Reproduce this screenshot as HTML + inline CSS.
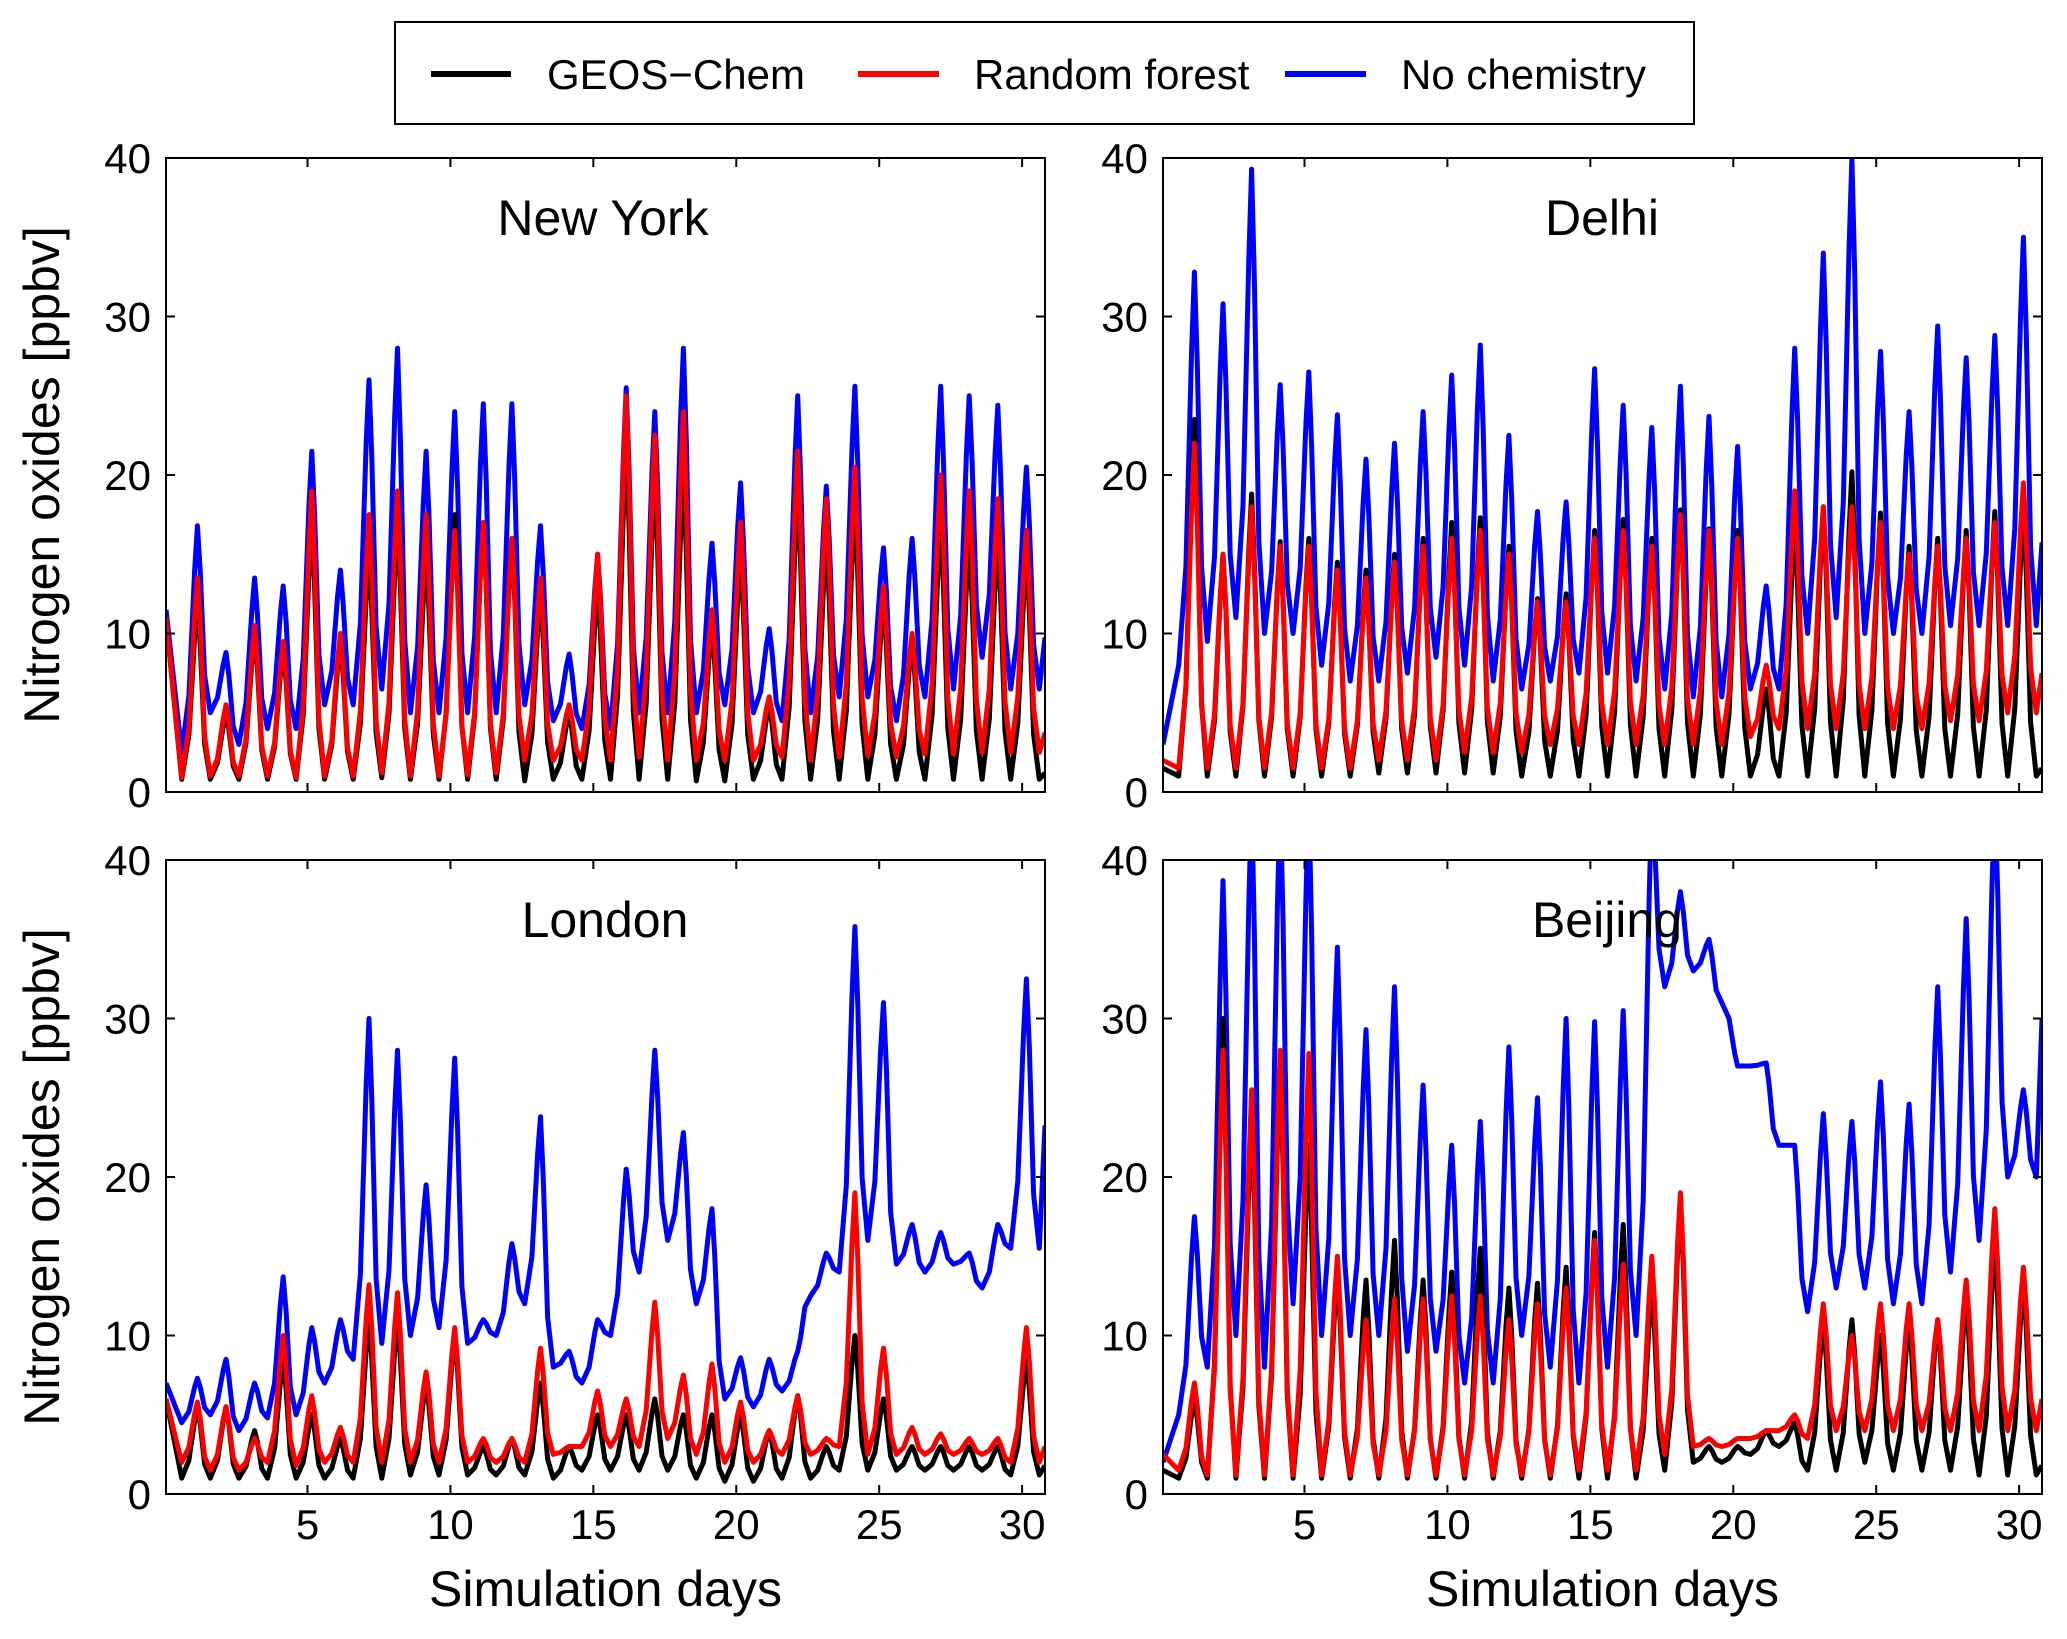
<!DOCTYPE html>
<html><head><meta charset="utf-8"><style>
html,body{margin:0;padding:0;background:#fff;}
svg{display:block;font-family:"Liberation Sans",Arial,sans-serif;}
</style></head><body>
<svg id="chart" width="2067" height="1639" viewBox="0 0 2067 1639">
<g id="legend">
<rect x="395" y="22" width="1299" height="102" fill="#fff" stroke="#000" stroke-width="2"/>
<line x1="431" y1="74" x2="511" y2="74" stroke="#000" stroke-width="6"/>
<text x="547" y="89" font-size="42">GEOS−Chem</text>
<line x1="858" y1="74" x2="939" y2="74" stroke="#f00" stroke-width="6"/>
<text x="974" y="89" font-size="42">Random forest</text>
<line x1="1285" y1="74" x2="1366" y2="74" stroke="#00f" stroke-width="6"/>
<text x="1401" y="89" font-size="42">No chemistry</text>
</g>
</svg>
<script>
// Daily peaks (days 1..30) and troughs (start + days 0..29)
const nyBluePeaks=[16.8,8.8,13.5,13,21.5,14,26,28,21.5,24,24.5,24.5,16.8,8.7,15,25.5,24,28,15.7,19.5,10.3,25,19.3,25.6,15.4,16,25.6,25,24.4,20.5];
const nyBlueTroughs=[11.5,2.5,5,3,4,4,5.5,5.5,6.5,5,5,5,5,5.5,4.5,4,4,5,5,5,5.5,5,4.5,5,6,6,4.5,6,6.5,8.5,6.5];
const nyRedPeaks=[13.5,5.5,10.5,9.5,19,10,17.5,19,17.5,16.5,17,16,13.5,5.5,15,25,22.5,24,11.5,17,6,21.5,18.5,20.5,13,10,20,19,18.5,16.5];
const nyRedTroughs=[11,0.9,1,1,1,0.9,1,1,1.2,1,1,1.1,1.2,2,2,2,2,2.2,2,2,2,2,2.2,2,2.2,2.3,2.2,2.4,2.4,2.5,2.5];
const nyBlackPeaks=[12,5,10,9,17,9.5,15,17,15,17.5,17,16,12.5,5,13,22,20,20,10.5,15,5.5,19,16,18,12,9.5,17,16,16,15];
const nyBlackTroughs=[11,0.8,0.8,0.8,0.8,0.8,0.8,0.8,0.9,0.8,0.8,0.8,0.8,0.7,0.8,0.8,0.8,0.8,0.8,0.7,0.7,0.8,0.8,0.8,0.8,0.8,0.8,0.8,0.8,0.8,0.8];

const deBluePeaks=[32.8,30.8,39.3,25.7,26.5,23.8,21,22,24,26.3,28.2,22.5,17.7,18.3,26.7,24.4,23,25.6,23.7,21.8,13,28,34,40,27.8,24,29.4,27.4,28.8,35];
const deBlueTroughs=[3,8,9.5,11,10,10,8,7,7,7.5,8.5,8,7,6.5,7,7.5,7.5,7,6.5,6,6,6.5,6.5,10,11,10,10,10,10.5,10.5,10.5];
const deRedPeaks=[22,15,18,15.5,15.5,14,13.5,14.5,15.5,16,16.5,15,12,12,16,16.5,15.5,17.5,16.5,16,8,19,18,18,17,15,15.5,16,17,19.5];
const deRedTroughs=[2,1.5,1.5,1.5,1.5,1.5,1.5,1.5,2,2,2,2.5,2.5,2.5,3,3,3,3,3,3,3,3.5,4,4,4,4,4,4,4.5,4.5,5];
const deBlackPeaks=[23.5,15,18.8,15.8,16,14.5,14,15,16,17,17.3,15.5,12.2,12.5,16.5,17.2,16,17.8,16.6,16.5,6.5,17,18,20.2,17.6,15.5,16,16.5,17.7,18];
const deBlackTroughs=[1.5,1,1,1,1,1,1,1,1.2,1.2,1.2,1.2,1.2,1,1,1,1,1,1,1,1,1,1,1,1,1,1,1,1,1,1];

const loBluePeaks=[7.3,8.5,7,13.7,10.5,11,30,28,19.5,27.5,11,15.8,23.8,9,11,20.5,28,22.8,18,8.6,8.5,9,15.2,35.8,31,17,16.5,15.2,17,32.5];
const loBlueTroughs=[7,4.5,5,4,4.8,5,7,8.5,9.5,10,10.5,9.5,10,12,8,7,10,14,16,12,6,5.5,6.5,12.5,14,16,14.5,14,14.5,13,15.5];
const loRedPeaks=[5.8,5.5,3.5,10,6.2,4.2,13.2,12.7,7.7,10.5,3.5,3.5,9.2,3,6.5,6,12.1,7.5,8.2,5.8,4,6.2,3.5,19,9.2,4.2,3.8,3.5,3.5,10.5];
const loRedTroughs=[6,2,1.5,1.5,2,1.8,2,2,2,2,2,2,2,2,2.5,3,3,3,3.5,2.5,2,2,2.5,2.5,3,2.5,2.5,2.5,2.5,2.5,2];
const loBlackPeaks=[5.5,5.5,4,8.5,5,3.5,11,11,7,10,3,3.5,7,3,5,5,6,5,5,5,4,6.2,3,10,6,3,3,3,3,8.5];
const loBlackTroughs=[6,1,1,1,1,1,1,1,1,1.2,1.2,1.2,1.2,1.2,1,1.5,1.5,1.5,1.5,1,0.8,0.8,1,1,1.5,1.5,1.5,1.5,1.5,1.5,1.2];

const bjBluePeaks=[17.5,38.7,44,44,44,34.5,29.3,32,25.8,22,23.5,28.2,25,30,29.8,30.5,44,38,35,27,27.2,22,24,23.5,26,24.6,32,36.3,44,25.5];
const bjBlueTroughs=[2,5,8,10,8,12,10,10,10,9,9,7,7,10,8,7,8,10,32,33,31,27,22,11.5,13,13,12,12,14,16,20];
const bjRedPeaks=[7,28,25.5,28,27.8,15,11,12.3,12.3,12.5,12.5,11,12,13,16,14.5,15,19,3.5,3.5,4,5,12,10,12,12,11,13.5,18,14.3];
const bjRedTroughs=[2.5,1.5,1.2,1.2,1.2,1.2,1.2,1.2,1.2,1.2,1.2,1.2,1.2,1.2,1.2,1.5,1.5,1.5,2.5,3,3,3.5,4,3.5,4,4,4,4,4,4,4];
const bjBlackPeaks=[6,30,24,27,22,14,13.5,16,13.5,14,15.5,13,13.3,14.3,16.5,17,13,18.5,3,3,4,4.5,11,11,10,11,11,12.5,16,13.5];
const bjBlackTroughs=[1.5,1,1,1,1,1,1,1,1,1,1,1,1,1,1,1,1,1,1.5,2,2,2.5,3,1.5,1.5,2,1.5,1.5,1.5,1.2,1.2];

const yTicks=[0,10,20,30,40];
const xTicks=[5,10,15,20,25,30];

const panels=[
 {id:'new-york',title:'New York',x0:166,x1:1045,y0:158,y1:792,tx:603,ty:235,xl:false,
  s:[[nyBluePeaks,nyBlueTroughs,'#00f'],[nyBlackPeaks,nyBlackTroughs,'#000'],[nyRedPeaks,nyRedTroughs,'#f00']]},
 {id:'delhi',title:'Delhi',x0:1163,x1:2042,y0:158,y1:792,tx:1602,ty:235,xl:false,
  s:[[deBluePeaks,deBlueTroughs,'#00f'],[deBlackPeaks,deBlackTroughs,'#000'],[deRedPeaks,deRedTroughs,'#f00']]},
 {id:'london',title:'London',x0:166,x1:1045,y0:860,y1:1494,tx:605,ty:937,xl:true,
  s:[[loBluePeaks,loBlueTroughs,'#00f'],[loBlackPeaks,loBlackTroughs,'#000'],[loRedPeaks,loRedTroughs,'#f00']]},
 {id:'beijing',title:'Beijing',x0:1163,x1:2042,y0:860,y1:1494,tx:1607,ty:937,xl:true,
  s:[[bjBluePeaks,bjBlueTroughs,'#00f'],[bjBlackPeaks,bjBlackTroughs,'#000'],[bjRedPeaks,bjRedTroughs,'#f00']]}
];
const NS='http://www.w3.org/2000/svg';
const svg=document.getElementById('chart');
function mk(tag,attrs,parent){const e=document.createElementNS(NS,tag);for(const k in attrs)e.setAttribute(k,attrs[k]);(parent||svg).appendChild(e);return e;}
const names=['no-chemistry','geos-chem','random-forest'];
panels.forEach(p=>{
  const g=mk('g',{});
  
  
  const xs=d=>p.x0+(d-0.05)/(30.8-0.05)*(p.x1-p.x0);
  const ys=v=>p.y1-v/40*(p.y1-p.y0);
  const cp=mk('clipPath',{id:'clip-'+p.id},g);
  mk('rect',{x:p.x0,y:p.y0,width:p.x1-p.x0,height:p.y1-p.y0},cp);
  p.s.forEach((s,si)=>{
    const [peaks,troughs,col]=s;
    const pts=[[xs(0.05),ys(troughs[0])]];
    for(let k=0;k<peaks.length;k++){
      const tr=troughs[k+1], pk=peaks[k], nx=(k+2<troughs.length)?troughs[k+2]:tr;
      pts.push([xs(k+0.6),ys(tr)]);
      pts.push([xs(k+0.85),ys(tr+(pk-tr)*0.25)]);
      pts.push([xs(k+1.05),ys(tr+(pk-tr)*0.8)]);
      pts.push([xs(k+1.15),ys(pk)]);
      pts.push([xs(k+1.25),ys(nx+(pk-nx)*0.75)]);
      pts.push([xs(k+1.4),ys(nx+(pk-nx)*0.2)]);
    }
    pts.push([xs(30.6),ys(troughs[troughs.length-1])]);
    pts.push([xs(30.8),ys(troughs[troughs.length-1]*1.5)]);
    const path=mk('polyline',{points:pts.map(q=>q[0].toFixed(1)+','+q[1].toFixed(1)).join(' '),fill:'none',stroke:col,'stroke-width':5,'stroke-linejoin':'round','clip-path':'url(#clip-'+p.id+')'},g);
    
    
  });
  const fr=mk('rect',{x:p.x0,y:p.y0,width:p.x1-p.x0,height:p.y1-p.y0,fill:'none',stroke:'#000','stroke-width':2},g);
  
  
  yTicks.forEach(v=>{
    mk('line',{x1:p.x0,x2:p.x0+9,y1:ys(v),y2:ys(v),stroke:'#000','stroke-width':2},g);
    mk('line',{x1:p.x1,x2:p.x1-9,y1:ys(v),y2:ys(v),stroke:'#000','stroke-width':2},g);
    const t=mk('text',{x:p.x0-15,y:ys(v)+15,'font-size':42,'text-anchor':'end'},g);
    t.textContent=v;
    
    
  });
  xTicks.forEach(v=>{
    mk('line',{x1:xs(v),x2:xs(v),y1:p.y1,y2:p.y1-9,stroke:'#000','stroke-width':2},g);
    mk('line',{x1:xs(v),x2:xs(v),y1:p.y0,y2:p.y0+9,stroke:'#000','stroke-width':2},g);
    if(p.xl){const t=mk('text',{x:xs(v),y:p.y1+45,'font-size':42,'text-anchor':'middle'},g);
      t.textContent=v;
      
      }
  });
  const tt=mk('text',{x:p.tx,y:p.ty,'font-size':50,'text-anchor':'middle'},g);
  tt.textContent=p.title;
  
  
  if(p.xl){const xl=mk('text',{x:(p.x0+p.x1)/2,y:1606,'font-size':50,'text-anchor':'middle'},g);
    xl.textContent='Simulation days';
    
    }
  if(p.x0<500){const yl=mk('text',{x:0,y:0,'font-size':50,'text-anchor':'middle',transform:'translate(59,'+((p.y0+p.y1)/2)+') rotate(-90)'},g);
    yl.textContent='Nitrogen oxides [ppbv]';
    
    }
});
</script>
</body></html>
